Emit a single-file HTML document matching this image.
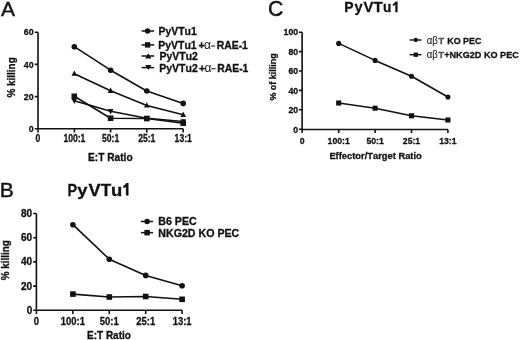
<!DOCTYPE html>
<html><head><meta charset="utf-8">
<style>
html,body{margin:0;padding:0;background:#fff;width:520px;height:340px;overflow:hidden}
svg{display:block;will-change:transform;filter:blur(0.25px)}
text{font-family:"Liberation Sans",sans-serif;fill:#111;font-kerning:none}
text[font-weight=bold]{stroke:#111;stroke-width:0.3px}
text.L{stroke:#111;stroke-width:0.4px}
text.g{fill:#555;stroke:#555}
</style></head><body>
<svg width="520" height="340" viewBox="0 0 520 340">
<rect width="520" height="340" fill="#fff"/>
<text x="0.9" y="15.8" font-size="21" class="L">A</text>
<path d="M38 32.2V132.4M34.8 32.2H38M34.8 64.4H38M34.8 96.6H38M34.8 128.8H38M38 128.8H183.2M38 128.8V132.4M74.4 128.8V132.4M110.6 128.8V132.4M146.8 128.8V132.4M183.2 128.8V132.4" stroke="#111" stroke-width="1.6" fill="none"/>
<text x="33.7" y="35.3" font-size="9.5" font-weight="bold" text-anchor="end" textLength="9.83" lengthAdjust="spacingAndGlyphs">60</text>
<text x="33.7" y="67.5" font-size="9.5" font-weight="bold" text-anchor="end" textLength="9.83" lengthAdjust="spacingAndGlyphs">40</text>
<text x="33.7" y="99.7" font-size="9.5" font-weight="bold" text-anchor="end" textLength="9.83" lengthAdjust="spacingAndGlyphs">20</text>
<text x="33.7" y="131.9" font-size="9.5" font-weight="bold" text-anchor="end" textLength="4.91" lengthAdjust="spacingAndGlyphs">0</text>
<text x="38" y="142.4" font-size="10.1" font-weight="bold" text-anchor="middle" textLength="4.77" lengthAdjust="spacingAndGlyphs">0</text>
<text x="74.4" y="142.4" font-size="10.1" font-weight="bold" text-anchor="middle" textLength="21.96" lengthAdjust="spacingAndGlyphs">100:1</text>
<text x="110.6" y="142.4" font-size="10.1" font-weight="bold" text-anchor="middle" textLength="17.18" lengthAdjust="spacingAndGlyphs">50:1</text>
<text x="146.8" y="142.4" font-size="10.1" font-weight="bold" text-anchor="middle" textLength="17.18" lengthAdjust="spacingAndGlyphs">25:1</text>
<text x="183.2" y="142.4" font-size="10.1" font-weight="bold" text-anchor="middle" textLength="17.18" lengthAdjust="spacingAndGlyphs">13:1</text>
<text x="88" y="160.5" font-size="10.3" font-weight="bold" textLength="44.6" lengthAdjust="spacingAndGlyphs">E:T Ratio</text>
<text transform="translate(14.8 97.6) rotate(-90)" font-size="10" font-weight="bold" textLength="40.3" lengthAdjust="spacingAndGlyphs">% killing</text>
<polyline points="74.3,100.7 110.6,111.2 146.8,118.3 183.2,121.5" stroke="#111" stroke-width="1.6" fill="none" stroke-linejoin="round"/>
<polyline points="74.3,96.3 110.6,118.2 146.8,118.5 183.2,123.2" stroke="#111" stroke-width="1.6" fill="none" stroke-linejoin="round"/>
<polyline points="74.3,73.7 110.6,90.8 146.8,105.4 183.2,114.8" stroke="#111" stroke-width="1.6" fill="none" stroke-linejoin="round"/>
<polyline points="74.3,46.7 110.6,70.2 146.8,91 183.2,103.4" stroke="#111" stroke-width="1.6" fill="none" stroke-linejoin="round"/>
<path d="M74.3 103.89L77.1 98.57H71.5Z" fill="#111"/>
<path d="M110.6 114.39L113.4 109.07H107.8Z" fill="#111"/>
<path d="M146.8 121.49L149.6 116.17H144Z" fill="#111"/>
<path d="M183.2 124.69L186 119.37H180.4Z" fill="#111"/>
<rect x="71.5" y="93.5" width="5.6" height="5.6" fill="#111"/>
<rect x="107.8" y="115.4" width="5.6" height="5.6" fill="#111"/>
<rect x="144" y="115.7" width="5.6" height="5.6" fill="#111"/>
<rect x="180.4" y="120.4" width="5.6" height="5.6" fill="#111"/>
<path d="M74.3 70.51L77.1 75.83H71.5Z" fill="#111"/>
<path d="M110.6 87.61L113.4 92.93H107.8Z" fill="#111"/>
<path d="M146.8 102.21L149.6 107.53H144Z" fill="#111"/>
<path d="M183.2 111.61L186 116.93H180.4Z" fill="#111"/>
<circle cx="74.3" cy="46.7" r="2.8" fill="#111"/>
<circle cx="110.6" cy="70.2" r="2.8" fill="#111"/>
<circle cx="146.8" cy="91" r="2.8" fill="#111"/>
<circle cx="183.2" cy="103.4" r="2.8" fill="#111"/>
<path d="M141.6 31H154.2" stroke="#111" stroke-width="1.5"/>
<circle cx="147.6" cy="31" r="2.7" fill="#111"/>
<path d="M141.6 44.9H154.2" stroke="#111" stroke-width="1.5"/>
<rect x="144.9" y="42.2" width="5.4" height="5.4" fill="#111"/>
<path d="M141.6 56H154.2" stroke="#111" stroke-width="1.5"/>
<path d="M148.3 53.3L151.4 58.4H145.2Z" fill="#111"/>
<path d="M141.6 67.6H154.2" stroke="#111" stroke-width="1.5"/>
<path d="M148.3 70.1L151.4 65H145.2Z" fill="#111"/>
<text x="158.5" y="35.2" font-size="10.4" font-weight="bold" textLength="38.2" lengthAdjust="spacingAndGlyphs">PyVTu1</text>
<text x="158.3" y="49.2" font-size="10.4" font-weight="bold" textLength="38.3" lengthAdjust="spacingAndGlyphs">PyVTu1</text>
<text x="198.4" y="49.2" font-size="10.4" font-weight="bold">+</text>
<text x="203.9" y="49.2" font-size="12" font-family="Liberation Serif" fill="#333" class="n">α</text>
<rect x="210.9" y="45.5" width="4.2" height="1.1" fill="#222"/>
<text x="216.7" y="49.2" font-size="10.4" font-weight="bold" textLength="31.2" lengthAdjust="spacingAndGlyphs">RAE-1</text>
<text x="159.2" y="71.9" font-size="10.4" font-weight="bold" textLength="38.6" lengthAdjust="spacingAndGlyphs">PyVTu2</text>
<text x="198.9" y="71.9" font-size="10.4" font-weight="bold">+</text>
<text x="204.4" y="71.9" font-size="12" font-family="Liberation Serif" fill="#333" class="n">α</text>
<rect x="211.4" y="68.2" width="4.2" height="1.1" fill="#222"/>
<text x="217.2" y="71.9" font-size="10.4" font-weight="bold" textLength="31.2" lengthAdjust="spacingAndGlyphs">RAE-1</text>
<text x="159.6" y="60.1" font-size="10.4" font-weight="bold" textLength="38.2" lengthAdjust="spacingAndGlyphs">PyVTu2</text>
<text x="-0.2" y="197.4" font-size="21" class="L">B</text>
<text x="67.59" y="195.6" font-size="17" font-weight="bold" textLength="9.55" lengthAdjust="spacingAndGlyphs">P</text>
<text x="77.2" y="195.6" font-size="17" font-weight="bold" textLength="10.24" lengthAdjust="spacingAndGlyphs">y</text>
<text x="88.62" y="195.6" font-size="17" font-weight="bold" textLength="12.05" lengthAdjust="spacingAndGlyphs">V</text>
<text x="100.86" y="195.6" font-size="17" font-weight="bold" textLength="10.47" lengthAdjust="spacingAndGlyphs">T</text>
<text x="110.91" y="195.6" font-size="17" font-weight="bold" textLength="11.26" lengthAdjust="spacingAndGlyphs">u</text>
<path d="M128.5 183.1V195.6H125.9V186.9Q124.7 187.7 123.3 188.1V185.8Q125.3 185 126.2 183.1Z" fill="#111"/>
<path d="M36.4 213.5V313.9M33.2 213.5H36.4M33.2 237.7H36.4M33.2 261.9H36.4M33.2 286.1H36.4M33.2 310.3H36.4M36.4 310.3H182.1M36.4 310.3V313.9M72.9 310.3V313.9M109.3 310.3V313.9M145.7 310.3V313.9M182.1 310.3V313.9" stroke="#111" stroke-width="1.6" fill="none"/>
<text x="32.2" y="216.9" font-size="10" font-weight="bold" text-anchor="end">80</text>
<text x="32.2" y="241.1" font-size="10" font-weight="bold" text-anchor="end">60</text>
<text x="32.2" y="265.3" font-size="10" font-weight="bold" text-anchor="end">40</text>
<text x="32.2" y="289.5" font-size="10" font-weight="bold" text-anchor="end">20</text>
<text x="32.2" y="313.7" font-size="10" font-weight="bold" text-anchor="end">0</text>
<text x="36.4" y="325" font-size="10.6" font-weight="bold" text-anchor="middle" textLength="5.25" lengthAdjust="spacingAndGlyphs">0</text>
<text x="72.9" y="325" font-size="10.6" font-weight="bold" text-anchor="middle" textLength="24.13" lengthAdjust="spacingAndGlyphs">100:1</text>
<text x="109.3" y="325" font-size="10.6" font-weight="bold" text-anchor="middle" textLength="18.88" lengthAdjust="spacingAndGlyphs">50:1</text>
<text x="145.7" y="325" font-size="10.6" font-weight="bold" text-anchor="middle" textLength="18.88" lengthAdjust="spacingAndGlyphs">25:1</text>
<text x="182.1" y="325" font-size="10.6" font-weight="bold" text-anchor="middle" textLength="18.88" lengthAdjust="spacingAndGlyphs">13:1</text>
<text x="87" y="338.7" font-size="10.2" font-weight="bold" textLength="43.9" lengthAdjust="spacingAndGlyphs">E:T Ratio</text>
<text transform="translate(8.7 280.3) rotate(-90)" font-size="10" font-weight="bold" textLength="40.2" lengthAdjust="spacingAndGlyphs">% killing</text>
<polyline points="72.9,294.1 109.3,297 145.7,296.5 182.1,299.3" stroke="#111" stroke-width="1.6" fill="none" stroke-linejoin="round"/>
<polyline points="72.9,224.7 109.3,259.2 145.7,275.4 182.1,285.7" stroke="#111" stroke-width="1.6" fill="none" stroke-linejoin="round"/>
<rect x="70.1" y="291.3" width="5.6" height="5.6" fill="#111"/>
<rect x="106.5" y="294.2" width="5.6" height="5.6" fill="#111"/>
<rect x="142.9" y="293.7" width="5.6" height="5.6" fill="#111"/>
<rect x="179.3" y="296.5" width="5.6" height="5.6" fill="#111"/>
<circle cx="72.9" cy="224.7" r="2.8" fill="#111"/>
<circle cx="109.3" cy="259.2" r="2.8" fill="#111"/>
<circle cx="145.7" cy="275.4" r="2.8" fill="#111"/>
<circle cx="182.1" cy="285.7" r="2.8" fill="#111"/>
<path d="M140.9 221.5H153" stroke="#111" stroke-width="1.5"/>
<circle cx="147.1" cy="221.5" r="2.75" fill="#111"/>
<path d="M140.9 232.65H153" stroke="#111" stroke-width="1.5"/>
<rect x="144.35" y="229.9" width="5.5" height="5.5" fill="#111"/>
<text x="158.3" y="224.8" font-size="10.4" font-weight="bold" textLength="38.4" lengthAdjust="spacingAndGlyphs">B6 PEC</text>
<text x="158.3" y="236.6" font-size="10.4" font-weight="bold" textLength="81" lengthAdjust="spacingAndGlyphs">NKG2D KO PEC</text>
<text x="268.1" y="16.4" font-size="21.3" class="L">C</text>
<text x="344.21" y="12.3" font-size="15.2" font-weight="bold" textLength="9.31" lengthAdjust="spacingAndGlyphs">P</text>
<text x="354.53" y="12.3" font-size="15.2" font-weight="bold" textLength="8.09" lengthAdjust="spacingAndGlyphs">y</text>
<text x="363.45" y="12.3" font-size="15.2" font-weight="bold" textLength="9.91" lengthAdjust="spacingAndGlyphs">V</text>
<text x="373.59" y="12.3" font-size="15.2" font-weight="bold" textLength="9.13" lengthAdjust="spacingAndGlyphs">T</text>
<text x="383.1" y="12.3" font-size="15.2" font-weight="bold" textLength="8.35" lengthAdjust="spacingAndGlyphs">u</text>
<path d="M397.6 1.5V12.3H395.3V4.8Q394.2 5.6 392.8 5.9V3.9Q394.6 3.2 395.5 1.5Z" fill="#111"/>
<path d="M302.1 32.2V133.1M298.9 32.2H302.1M298.9 51.6H302.1M298.9 71H302.1M298.9 90.4H302.1M298.9 109.8H302.1M298.9 129.3H302.1M302.1 129.5H447.9M302.1 129.5V133.1M338.7 129.5V133.1M375.1 129.5V133.1M411.5 129.5V133.1M447.9 129.5V133.1" stroke="#111" stroke-width="1.6" fill="none"/>
<text x="298.2" y="35.4" font-size="9.2" font-weight="bold" text-anchor="end" textLength="14.58" lengthAdjust="spacingAndGlyphs">100</text>
<text x="298.2" y="54.8" font-size="9.2" font-weight="bold" text-anchor="end" textLength="9.72" lengthAdjust="spacingAndGlyphs">80</text>
<text x="298.2" y="74.2" font-size="9.2" font-weight="bold" text-anchor="end" textLength="9.72" lengthAdjust="spacingAndGlyphs">60</text>
<text x="298.2" y="93.6" font-size="9.2" font-weight="bold" text-anchor="end" textLength="9.72" lengthAdjust="spacingAndGlyphs">40</text>
<text x="298.2" y="113" font-size="9.2" font-weight="bold" text-anchor="end" textLength="9.72" lengthAdjust="spacingAndGlyphs">20</text>
<text x="298.2" y="132.5" font-size="9.2" font-weight="bold" text-anchor="end" textLength="4.86" lengthAdjust="spacingAndGlyphs">0</text>
<text x="302.1" y="143.8" font-size="9.8" font-weight="bold" text-anchor="middle" textLength="4.82" lengthAdjust="spacingAndGlyphs">0</text>
<text x="338.7" y="143.8" font-size="9.8" font-weight="bold" text-anchor="middle" textLength="22.18" lengthAdjust="spacingAndGlyphs">100:1</text>
<text x="375.1" y="143.8" font-size="9.8" font-weight="bold" text-anchor="middle" textLength="17.36" lengthAdjust="spacingAndGlyphs">50:1</text>
<text x="411.5" y="143.8" font-size="9.8" font-weight="bold" text-anchor="middle" textLength="17.36" lengthAdjust="spacingAndGlyphs">25:1</text>
<text x="447.9" y="143.8" font-size="9.8" font-weight="bold" text-anchor="middle" textLength="17.36" lengthAdjust="spacingAndGlyphs">13:1</text>
<text x="329.4" y="158.8" font-size="9.4" font-weight="bold" textLength="92.4" lengthAdjust="spacingAndGlyphs">Effector/Target Ratio</text>
<text transform="translate(276.2 100.6) rotate(-90)" font-size="9" font-weight="bold" textLength="47.3" lengthAdjust="spacingAndGlyphs">% of killing</text>
<polyline points="338.7,103 375.1,108.2 411.5,115.8 447.9,120" stroke="#111" stroke-width="1.6" fill="none" stroke-linejoin="round"/>
<polyline points="338.7,43.4 375.1,60.4 411.5,76.3 447.9,97" stroke="#111" stroke-width="1.6" fill="none" stroke-linejoin="round"/>
<rect x="336.15" y="100.45" width="5.1" height="5.1" fill="#111"/>
<rect x="372.55" y="105.65" width="5.1" height="5.1" fill="#111"/>
<rect x="408.95" y="113.25" width="5.1" height="5.1" fill="#111"/>
<rect x="445.35" y="117.45" width="5.1" height="5.1" fill="#111"/>
<circle cx="338.7" cy="43.4" r="2.55" fill="#111"/>
<circle cx="375.1" cy="60.4" r="2.55" fill="#111"/>
<circle cx="411.5" cy="76.3" r="2.55" fill="#111"/>
<circle cx="447.9" cy="97" r="2.55" fill="#111"/>
<path d="M409.6 40H421.5" stroke="#111" stroke-width="1.4"/>
<circle cx="415.8" cy="40" r="2.15" fill="#111"/>
<path d="M409.6 54.7H421.5" stroke="#111" stroke-width="1.4"/>
<rect x="413.65" y="52.55" width="4.3" height="4.3" fill="#111"/>
<text x="426.7" y="43.5" font-size="11.2" font-family="Liberation Serif" fill="#555" stroke="#555" stroke-width="0.15" textLength="11" lengthAdjust="spacingAndGlyphs">αβ</text>
<text x="438.2" y="43.5" font-size="9.6" font-weight="bold" class="g" textLength="6" lengthAdjust="spacingAndGlyphs">T</text>
<text x="447.2" y="43.5" font-size="9.6" font-weight="bold" textLength="34.2" lengthAdjust="spacingAndGlyphs">KO PEC</text>
<text x="426.7" y="58.1" font-size="11.2" font-family="Liberation Serif" fill="#555" stroke="#555" stroke-width="0.15" textLength="11" lengthAdjust="spacingAndGlyphs">αβ</text>
<text x="438.2" y="58.1" font-size="9.6" font-weight="bold" class="g" textLength="6" lengthAdjust="spacingAndGlyphs">T</text>
<text x="444.2" y="58.1" font-size="9.6" font-weight="bold" textLength="74.6" lengthAdjust="spacingAndGlyphs">+NKG2D KO PEC</text>
</svg>
</body></html>
